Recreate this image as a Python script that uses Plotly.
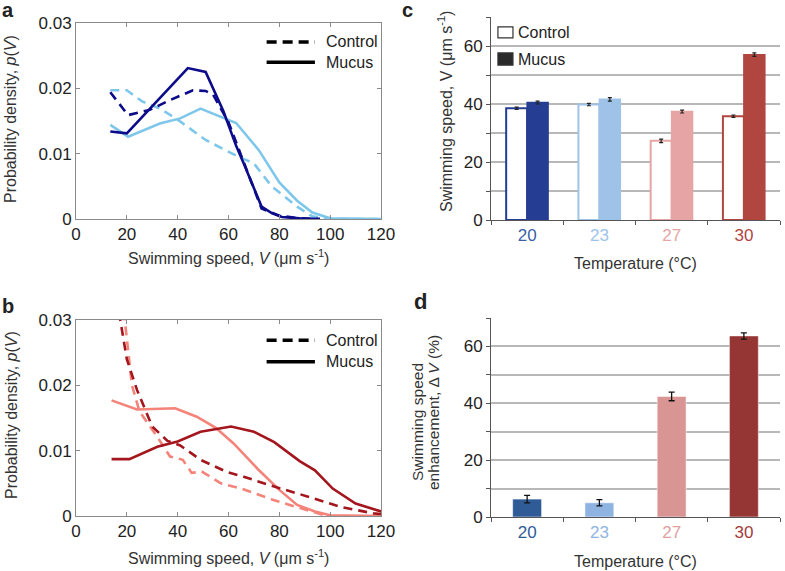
import plotly.graph_objects as go

# ---------------- Data ----------------
# Panel a (20 °C dark blue, 23 °C light blue)
a_dark_mucus_x = [13.5, 20, 44, 51, 58, 63, 66, 73, 77, 81, 88, 96]
a_dark_mucus_y = [0.0134, 0.0131, 0.0231, 0.0225, 0.0165, 0.0112, 0.0085, 0.0019, 0.0009, 0.0003, 0.0001, 0.0]
a_dark_ctrl_x = [13.5, 20.5, 29, 37, 46, 51, 54, 60, 65, 73, 80, 88, 96]
a_dark_ctrl_y = [0.0194, 0.0159, 0.0167, 0.0182, 0.0197, 0.0196, 0.019, 0.0148, 0.0097, 0.0016, 0.0005, 0.0001, 0.0]
a_light_mucus_x = [13.5, 20.5, 33, 41, 49, 63, 72, 80, 87, 93, 100, 120]
a_light_mucus_y = [0.0144, 0.0126, 0.0146, 0.0154, 0.0169, 0.0147, 0.0105, 0.0056, 0.0028, 0.001, 0.0001, 0.0]
a_light_ctrl_x = [13.5, 20, 26, 33, 40, 51, 63, 70, 77, 87, 93, 100, 120]
a_light_ctrl_y = [0.0197, 0.0197, 0.018, 0.0169, 0.0152, 0.0121, 0.0097, 0.0085, 0.005, 0.0019, 0.0004, 0.0, 0.0]

# Panel b (30 °C dark red, 27 °C salmon)
b_dark_mucus_x = [14, 21, 32, 40, 49, 61, 70, 78, 88, 94, 101, 110, 120]
b_dark_mucus_y = [0.0087, 0.0087, 0.0106, 0.0114, 0.0129, 0.0137, 0.0129, 0.0113, 0.0084, 0.007, 0.0042, 0.0019, 0.0007]
b_dark_ctrl_x = [14, 20, 24, 30, 36, 41, 49, 59, 66, 78, 91, 104, 117, 120]
b_dark_ctrl_y = [0.038, 0.024, 0.0193, 0.0137, 0.0115, 0.0108, 0.0086, 0.0068, 0.006, 0.0045, 0.003, 0.0014, 0.0004, 0.0003]
b_light_mucus_x = [14, 24, 39, 47.5, 55, 62, 72, 80, 87, 94, 100, 120]
b_light_mucus_y = [0.0177, 0.0163, 0.0165, 0.0152, 0.0135, 0.0111, 0.007, 0.004, 0.0017, 0.0007, 0.0001, 0.0]
b_light_ctrl_x = [15, 22, 25, 32, 37, 42, 45.5, 49.5, 57, 65, 78, 88, 97, 100]
b_light_ctrl_y = [0.045, 0.02, 0.016, 0.0121, 0.0091, 0.0086, 0.0066, 0.0068, 0.005, 0.0042, 0.0024, 0.0012, 0.0002, 0.0]

# Panel c
temps = ["20", "23", "27", "30"]
c_control = [38.5, 39.8, 27.3, 35.8]
c_control_err = [0.4, 0.4, 0.6, 0.4]
c_mucus = [40.5, 41.6, 37.4, 57.0]
c_mucus_err = [0.5, 0.6, 0.5, 0.6]

# Panel d
d_enh = [6.3, 5.0, 42.4, 63.7]
d_enh_err = [1.3, 1.1, 1.5, 1.1]

# ---------------- Styles ----------------
FONT = "Liberation Sans, Arial, Helvetica, sans-serif"
DARK_BLUE = "#0c0c8a"
LIGHT_BLUE = "#7fc7ea"
DARK_RED = "#a3161d"
SALMON = "#f4837a"
c_cols = ["#253d92", "#9fc3e8", "#e6a5a4", "#b0463f"]
d_cols = ["#2f5b97", "#8fb4e2", "#d99594", "#963634"]
tick_cols_c = ["#3a5fa5", "#9ec3e8", "#e6a5a4", "#b0463f"]
tick_cols_d = ["#2f5b97", "#8fb4e2", "#e0a0a0", "#a33c3a"]
DASH = "9px,6px"
LW = 2.6

fig = go.Figure()

def line(x, y, color, dash, xa, ya):
    fig.add_trace(go.Scatter(x=x, y=y, mode="lines", xaxis=xa, yaxis=ya,
                             line=dict(color=color, width=LW, dash=dash),
                             showlegend=False))

line(a_light_ctrl_x, a_light_ctrl_y, LIGHT_BLUE, DASH, "x", "y")
line(a_light_mucus_x, a_light_mucus_y, LIGHT_BLUE, "solid", "x", "y")
line(a_dark_ctrl_x, a_dark_ctrl_y, DARK_BLUE, DASH, "x", "y")
line(a_dark_mucus_x, a_dark_mucus_y, DARK_BLUE, "solid", "x", "y")

line(b_light_ctrl_x, b_light_ctrl_y, SALMON, DASH, "x2", "y2")
line(b_light_mucus_x, b_light_mucus_y, SALMON, "solid", "x2", "y2")
line(b_dark_ctrl_x, b_dark_ctrl_y, DARK_RED, DASH, "x2", "y2")
line(b_dark_mucus_x, b_dark_mucus_y, DARK_RED, "solid", "x2", "y2")

# Panel c bars
fig.add_trace(go.Bar(x=temps, y=c_control, xaxis="x3", yaxis="y3", name="Control",
                     marker=dict(color="white", line=dict(color=c_cols, width=2)),
                     error_y=dict(type="data", array=c_control_err, color="#222",
                                  thickness=1.2, width=2),
                     showlegend=False))
fig.add_trace(go.Bar(x=temps, y=c_mucus, xaxis="x3", yaxis="y3", name="Mucus",
                     marker=dict(color=c_cols, line=dict(color=c_cols, width=1.5)),
                     error_y=dict(type="data", array=c_mucus_err, color="#222",
                                  thickness=1.2, width=2),
                     showlegend=False))

# Panel d bars
fig.add_trace(go.Bar(x=temps, y=d_enh, xaxis="x4", yaxis="y4", width=0.4,
                     marker=dict(color=d_cols, line=dict(color="rgba(255,255,255,0.5)", width=1)),
                     error_y=dict(type="data", array=d_enh_err, color="#111",
                                  thickness=1.3, width=3),
                     showlegend=False))

# ---------------- Axes ----------------
ax_line = dict(showline=True, linecolor="#8a8a8a", linewidth=1, mirror="ticks",
               ticks="inside", ticklen=4, tickcolor="#8a8a8a", showgrid=False,
               zeroline=False, automargin=False,
               tickfont=dict(family=FONT, size=17, color="#222"))
xa = dict(range=[0, 120], tickvals=[0, 20, 40, 60, 80, 100, 120], **ax_line)
ya = dict(range=[0, 0.03], tickvals=[0, 0.01, 0.02, 0.03],
          ticktext=["0", "0.01", "0.02", "0.03"], **ax_line)

xd1 = [76 / 785, 381 / 785]
ya_dom = [(571 - 219) / 571, (571 - 23) / 571]
yb_dom = [(571 - 516) / 571, (571 - 320) / 571]
xd2 = [491 / 785, 780 / 785]
yc_dom = [(571 - 220) / 571, (571 - 17) / 571]
ydd_dom = [(571 - 517) / 571, (571 - 318) / 571]

def cat_axis(colors):
    return dict(type="category", range=[-0.5, 3.5], tickvals=temps,
                ticktext=[f'<span style="color:{c}">{t}</span>' for t, c in zip(temps, colors)],
                tickson="boundaries", ticks="outside", ticklen=4, tickcolor="#555",
                showline=True, linecolor="#555", linewidth=1, showgrid=False,
                zeroline=False, automargin=False, tickfont=dict(family=FONT, size=17))

def bar_y():
    return dict(range=[0, 70], tick0=0, dtick=20,
                ticks="outside", ticklen=4, tickcolor="#555", showline=True,
                linecolor="#555", linewidth=1, showgrid=True, gridcolor="#b8b8b8",
                gridwidth=1.5, zeroline=False, automargin=False,
                minor=dict(tick0=0, dtick=10, ticks="outside", ticklen=4, tickcolor="#555",
                           showgrid=True, gridcolor="#b8b8b8", gridwidth=1.5),
                tickfont=dict(family=FONT, size=17, color="#222"))

fig.update_layout(
    width=785, height=571,
    margin=dict(l=0, r=0, t=0, b=0, autoexpand=False),
    paper_bgcolor="white", plot_bgcolor="white",
    font=dict(family=FONT, color="#222"),
    barmode="group", bargap=0.42, bargroupgap=0,
    showlegend=False,
    xaxis=dict(domain=xd1, anchor="y", **xa),
    yaxis=dict(domain=ya_dom, anchor="x", **ya),
    xaxis2=dict(domain=xd1, anchor="y2", **xa),
    yaxis2=dict(domain=yb_dom, anchor="x2", **ya),
    xaxis3=dict(domain=xd2, anchor="y3", **cat_axis(tick_cols_c)),
    yaxis3=dict(domain=yc_dom, anchor="x3", **bar_y()),
    xaxis4=dict(domain=xd2, anchor="y4", **cat_axis(tick_cols_d)),
    yaxis4=dict(domain=ydd_dom, anchor="x4", **bar_y()),
)

# ---------------- Legends (drawn) ----------------
def line_legend(xr, yr, y1, y2):
    fig.add_shape(type="line", xref=xr, yref=yr, x0=75, x1=94, y0=y1, y1=y1,
                  line=dict(color="black", width=3.5, dash="10px,6px"))
    fig.add_shape(type="line", xref=xr, yref=yr, x0=75, x1=94, y0=y2, y1=y2,
                  line=dict(color="black", width=3.5))
    for txt, yy in (("Control", y1), ("Mucus", y2)):
        fig.add_annotation(xref=xr, yref=yr, x=97.5, y=yy, text=txt, showarrow=False,
                           xanchor="left", yanchor="middle",
                           font=dict(family=FONT, size=16, color="#222"))

line_legend("x", "y", 0.0271, 0.0240)
line_legend("x2", "y2", 0.0269, 0.0236)

fig.add_shape(type="rect", xref="x3 domain", yref="y3", x0=0.024, x1=0.076, y0=62.8, y1=66.6,
              line=dict(color="#333", width=1.2), fillcolor="white")
fig.add_shape(type="rect", xref="x3 domain", yref="y3", x0=0.024, x1=0.076, y0=53.4, y1=57.6,
              line=dict(color="#333", width=1.2), fillcolor="#2a2a2a")
for txt, yy in (("Control", 64.7), ("Mucus", 55.5)):
    fig.add_annotation(xref="x3 domain", yref="y3", x=0.088, y=yy, text=txt, showarrow=False,
                       xanchor="left", yanchor="middle",
                       font=dict(family=FONT, size=16, color="#222"))

# Significance asterisks
fig.add_annotation(xref="x3", yref="y3", x="30", y=c_mucus[3] + 4.5, xshift=13, text="*",
                   showarrow=False, font=dict(family=FONT, size=20, color="#333"))
fig.add_annotation(xref="x4", yref="y4", x="30", y=d_enh[3] + 4.5, text="*",
                   showarrow=False, font=dict(family=FONT, size=20, color="#333"))

# ---------------- Axis titles & panel labels ----------------
def ann(x, y, text, size=16, angle=0, bold=False):
    fig.add_annotation(xref="paper", yref="paper", x=x / 785, y=(571 - y) / 571,
                       text=f"<b>{text}</b>" if bold else text, showarrow=False,
                       textangle=angle, xanchor="center", yanchor="middle",
                       font=dict(family=FONT, size=size, color="#222" if bold else "#333"))

xt_speed = "Swimming speed, <i>V</i> (μm s<sup>-1</sup>)"
yt_prob = "Probability density, <i>p</i>(<i>V</i>)"
ann(228, 257, xt_speed)
ann(11, 119, yt_prob, angle=-90)
ann(228, 557, xt_speed)
ann(11, 415, yt_prob, angle=-90)
ann(445, 112, "Swimming speed, V (μm s<sup>-1</sup>)", angle=-90)
ann(635.5, 263, "Temperature (°C)")
ann(417, 422, "Swimming speed", size=15.5, angle=-90)
ann(433, 413, "enhancement, Δ <i>V</i> (%)", size=15.5, angle=-90)
ann(635.5, 561, "Temperature (°C)")

ann(8, 10, "a", size=20, bold=True)
ann(8, 306, "b", size=20, bold=True)
ann(407, 10, "c", size=20, bold=True)
ann(420, 302, "d", size=22, bold=True)

fig.write_html("out.html", config={"displayModeBar": False},
               post_script="document.body.style.margin='0';document.body.style.overflow='hidden';")
